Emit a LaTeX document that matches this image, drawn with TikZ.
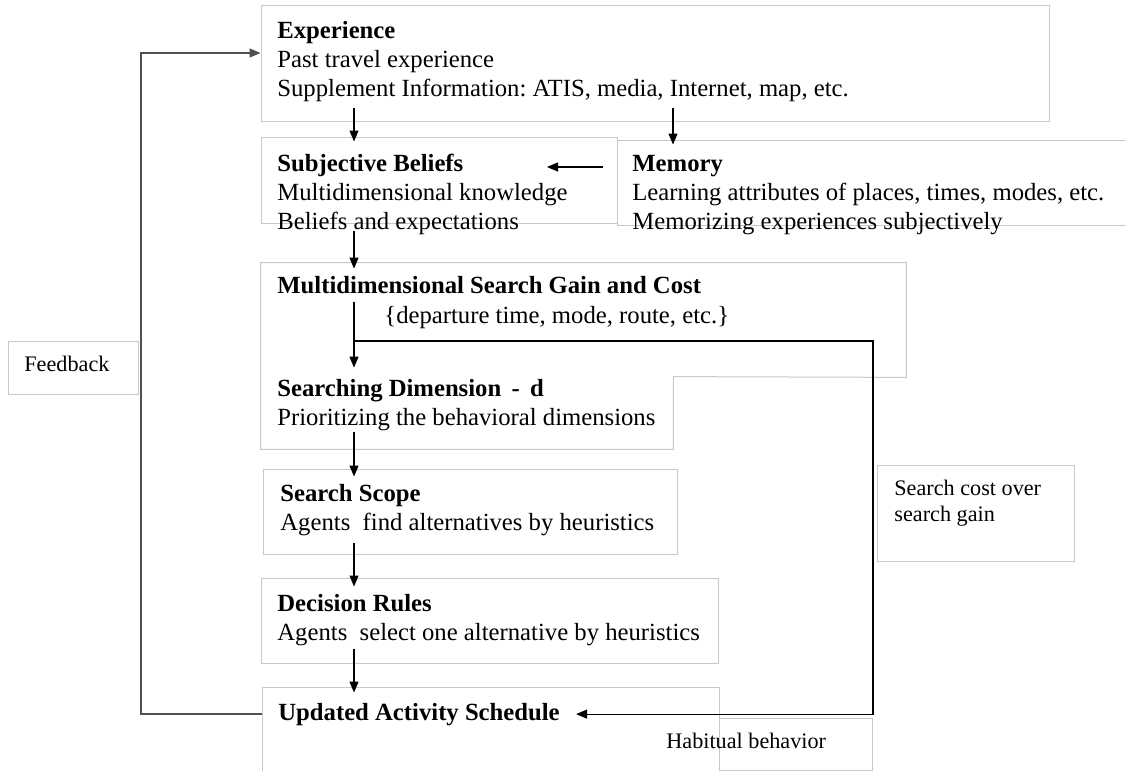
\documentclass[tikz,border=0pt]{standalone}
\usepackage{fontspec}
\setmainfont{Liberation Serif}
\usetikzlibrary{arrows.meta,fit}
\frenchspacing

\definecolor{boxgray}{RGB}{200,200,200}
\definecolor{loopgray}{RGB}{80,80,80}

\tikzset{
  box/.style={draw=boxgray, line width=0.5pt, inner sep=0pt},
  area/.style={inner sep=0pt},
  txt/.style={anchor=base west, align=left, inner sep=0pt,
    font=\fontsize{12.35}{14.5}\selectfont},
  smalltxt/.style={anchor=base west, align=left, inner sep=0pt,
    font=\fontsize{11.1}{13}\selectfont},
  arr/.style={-{Triangle[length=5.5pt,width=4.5pt]}, line width=0.6pt},
  fb/.style={arr, draw=loopgray, line width=0.7pt},
}

\begin{document}
\begin{tikzpicture}[x=0.5pt,y=-0.5pt]
\useasboundingbox (0,0) rectangle (1126,771);

% boxes of the main column
\node[box, fit={(261,5) (1049,121)}] (expbox) {};
\node[box, fit={(261,137) (617,223)}] (subjbox) {};
\node[box, fit={(617,140) (1150,225)}] (membox) {};
\node[area, fit={(261,263) (906,377)}] (gainbox) {};
\node[area, fit={(261,377) (673,449)}] (dimbox) {};
\draw[draw=boxgray, line width=0.5pt] (gainbox.north west) -- (gainbox.north east)
  -- (gainbox.south east) -- (dimbox.north east) -- (dimbox.south east)
  -- (dimbox.south west) -- cycle;
\node[box, fit={(263,469) (677,554)}] (scopebox) {};
\node[box, fit={(261,578) (718,663)}] (decbox) {};
\node[box, fit={(262,687) (719,800)}] (updbox) {};

% side boxes
\node[box, fit={(719,718) (872,770)}] (habbox) {};
\node[box, fit={(8,341) (138,394)}] (fbbox) {};
\node[box, fit={(877,465) (1074,561)}] (costbox) {};

% texts (base = baseline of the last line)
\node[txt] (exptxt) at (277,97) {\textbf{Experience}\\Past travel experience\\Supplement Information: ATIS, media, Internet, map, etc.};
\node[txt] (subjtxt) at (277,229) {\textbf{Subjective Beliefs}\\Multidimensional knowledge\\Beliefs and expectations};
\node[txt] (memtxt) at (632,229) {\textbf{Memory}\\Learning attributes of places, times, modes, etc.\\Memorizing experiences subjectively};
\node[txt] (gaintxt) at (277,293) {\textbf{Multidimensional Search Gain and Cost}};
\node[txt] (settxt) at (384,323) {\{departure time, mode, route, etc.\}};
\node[txt] (dimtxt) at (277,425) {\textbf{Searching Dimension \,-\, d}\\Prioritizing the behavioral dimensions};
\node[txt] (scopetxt) at (280,530) {\textbf{Search Scope}\\Agents\enspace find alternatives by heuristics};
\node[txt] (dectxt) at (277,640) {\textbf{Decision Rules}\\Agents\enspace select one alternative by heuristics};
\node[txt] (updtxt) at (278,720) {\textbf{Updated Activity Schedule}};
\node[smalltxt] (habtxt) at (666,748) {Habitual behavior};
\node[smalltxt] (fbtxt) at (24,371) {Feedback};
\node[smalltxt] (costtxt) at (894,521) {Search cost over\\search gain};

% connectors
\coordinate (spine) at (354,0);
\coordinate (memx) at (673,0);
\coordinate (loopx) at (873,341);
\coordinate (fbx) at (141,53);

\draw[arr] ([yshift=7pt]expbox.south -| spine) -- ([yshift=-2.5pt]subjbox.north -| spine);
\draw[arr] ([yshift=7pt]expbox.south -| memx) -- ([yshift=-2.5pt]membox.north -| memx);
\draw[arr] ([shift={(-14.5pt,31pt)}]memtxt.base west) -- ([shift={(-42.5pt,31pt)}]memtxt.base west);
\draw[arr] ([yshift=-3.5pt]subjbox.south -| spine) -- ([yshift=-3pt]gainbox.north -| spine);
\draw[arr] ([yshift=-19.5pt]gainbox.north -| spine) -- ([yshift=4.5pt]dimbox.north -| spine);
\draw[arr] (spine |- loopx) -- (loopx) -- (loopx |- updtxt.east) -- ([xshift=8pt]updtxt.east);
\draw[arr] ([yshift=8.5pt]dimbox.south -| spine) -- ([yshift=-4pt]scopebox.north -| spine);
\draw[arr] ([yshift=6pt]scopebox.south -| spine) -- ([yshift=-4.5pt]decbox.north -| spine);
\draw[arr] ([yshift=7.5pt]decbox.south -| spine) -- ([yshift=-3pt]updbox.north -| spine);
\draw[fb] (updbox.west |- updtxt.east) -| (fbx) -- ([yshift=5pt]expbox.west);
\end{tikzpicture}
\end{document}
